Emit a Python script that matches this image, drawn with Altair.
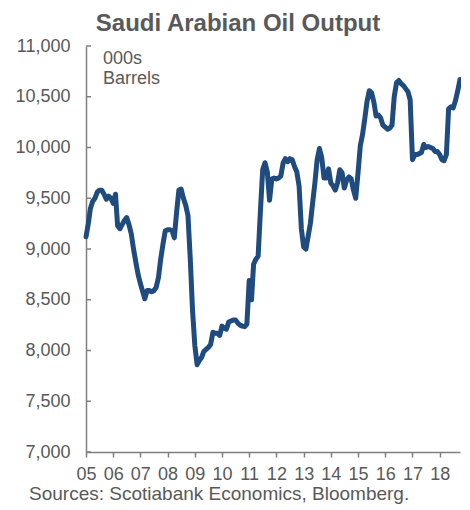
import altair as alt
import pandas as pd

# Monthly Saudi Arabian oil output, 000s barrels/day, Jan 2005 - Oct 2018
output = [
    9120, 9250, 9400, 9470, 9500, 9560, 9580, 9580, 9540, 9490, 9520, 9500,   # 2005
    9450, 9540, 9230, 9200, 9240, 9280, 9310, 9240, 9150, 9000, 8870, 8750,   # 2006
    8660, 8580, 8510, 8590, 8590, 8580, 8590, 8620, 8720, 8900, 9050, 9180,   # 2007
    9190, 9190, 9180, 9110, 9360, 9580, 9590, 9500, 9430, 9330, 8900, 8400,   # 2008
    8050, 7860, 7900, 7930, 7990, 8010, 8030, 8060, 8180, 8170, 8170, 8150,   # 2009
    8240, 8220, 8210, 8280, 8290, 8300, 8300, 8270, 8250, 8240, 8235, 8260,   # 2010
    8690, 8500, 8850, 8900, 8930, 9380, 9780, 9850, 9760, 9480, 9690, 9700,   # 2011
    9690, 9700, 9720, 9850, 9890, 9860, 9890, 9880, 9810, 9760, 9620, 9200,   # 2012
    9020, 9000, 9120, 9250, 9450, 9650, 9880, 9990, 9900, 9700, 9700, 9790,   # 2013
    9650, 9620, 9580, 9650, 9780, 9750, 9600, 9680, 9710, 9690, 9580, 9500,   # 2014
    9750, 10020, 10120, 10280, 10450, 10560, 10540, 10450, 10310, 10320, 10290, 10220,  # 2015
    10200, 10180, 10190, 10220, 10500, 10640, 10660, 10630, 10610, 10580, 10550, 10470,  # 2016
    9880, 9930, 9930, 9940, 9950, 10030, 10000, 10010, 10000, 9990, 9960, 9960,  # 2017
    9930, 9880, 9870, 9930, 10380, 10400, 10390, 10460, 10560, 10670,           # 2018
]
tick_years = list(range(2005, 2019))
y_ticks = [7000, 7500, 8000, 8500, 9000, 9500, 10000, 10500, 11000]
title_text = "Saudi Arabian Oil Output"
unit_text = ["000s", "Barrels"]
source_text = "Sources: Scotiabank Economics, Bloomberg."

FONT = "Liberation Sans"
GREY = "#595959"
AXIS_GREY = "#7f7f7f"
LINE = "#1F4B7F"

dates = pd.date_range("2005-01-01", periods=len(output), freq="MS")
df = pd.DataFrame({"date": dates.strftime("%Y-%m-%d"), "output": output})

x_scale = alt.Scale(domain=[alt.DateTime(year=2005, month=1, date=1),
                            alt.DateTime(year=2018, month=10, date=1)])
y_scale = alt.Scale(domain=[7000, 11000], nice=False, zero=False)

line = alt.Chart(df).mark_line(color=LINE, strokeWidth=5, strokeJoin="round",
                               strokeCap="round").encode(
    x=alt.X("date:T", scale=x_scale,
            axis=alt.Axis(values=[alt.DateTime(year=y, month=1, date=1) for y in tick_years],
                          format="%y", title=None, grid=False, labelFontSize=18,
                          labelColor=GREY, labelFont=FONT, tickSize=5, tickColor=AXIS_GREY,
                          tickWidth=1.5, domainColor=AXIS_GREY, domainWidth=1.5,
                          labelPadding=8, labelFlush=False)),
    y=alt.Y("output:Q", scale=y_scale,
            axis=alt.Axis(values=y_ticks, format=",.0f", title=None, grid=False, ticks=False,
                          labelFontSize=18, labelColor=GREY, labelFont=FONT,
                          labelPadding=16, domainColor=AXIS_GREY, domainWidth=1.5)),
)

yticks = alt.Chart(pd.DataFrame({"v": y_ticks})).mark_rule(
    color=AXIS_GREY, strokeWidth=1.5).encode(
    y=alt.Y("v:Q", scale=y_scale),
    x=alt.value(0), x2=alt.value(5),
)

unit = alt.Chart(pd.DataFrame({"k": [0]})).mark_text(
    text=unit_text, align="left", baseline="top", fontSize=18, font=FONT,
    color=GREY, lineHeight=20).encode(x=alt.value(17), y=alt.value(4))

source = alt.Chart(pd.DataFrame({"k": [0]})).mark_text(
    text=source_text, align="left", baseline="alphabetic", fontSize=19, font=FONT,
    color=GREY).encode(x=alt.value(-57), y=alt.value(454))

chart = alt.layer(line, yticks, unit, source).properties(
    width=374, height=406,
    title=alt.TitleParams(title_text, fontSize=24, fontWeight="bold", color=GREY,
                          font=FONT, anchor="middle", dx=-35, baseline="alphabetic",
                          offset=-18),
    autosize=alt.AutoSizeParams(type="none"),
    padding={"left": 78, "top": 38, "right": 1, "bottom": 56},
).configure_view(stroke=None)

chart.save("out.html", embed_options={"renderer": "svg", "actions": False})
